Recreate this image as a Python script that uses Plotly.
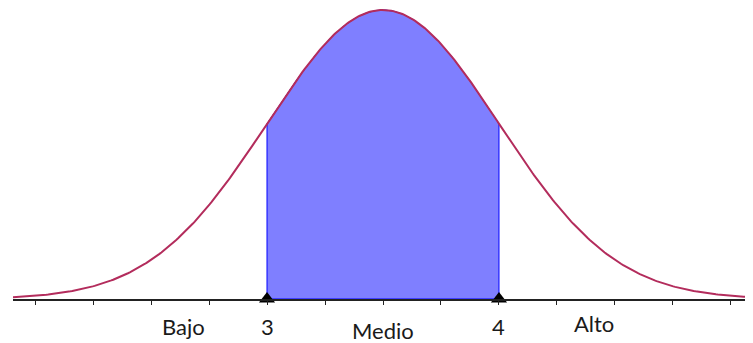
import numpy as np
import plotly.graph_objects as go

# parametri della distribuzione normale
media = 3.5
sigma = 0.5
x_min, x_max = 1.905, 5.095

# intervallo evidenziato
lim_inf, lim_sup = 3, 4

# tacche dell'asse e etichette
tacche = [2.0, 2.25, 2.5, 2.75, 3.0, 3.25, 3.5, 3.75, 4.0, 4.25, 4.5, 4.75, 5.0]
etichette = ["Bajo", "3", "Medio", "4", "Alto"]
pos_etichette = [2.638, 3.0, 3.5, 4.0, 4.41]
scarto_etichette = [-27, -27, -31, -27, -24]


def pdf(x):
    return np.exp(-0.5 * ((x - media) / sigma) ** 2) / (sigma * np.sqrt(2 * np.pi))


xs = np.linspace(x_min, x_max, 400)
xa = np.linspace(lim_inf, lim_sup, 200)
picco = pdf(media)

fig = go.Figure()

# area tra 3 e 4
fig.add_trace(go.Scatter(
    x=np.concatenate([[lim_inf], xa, [lim_sup, lim_inf]]),
    y=np.concatenate([[0], pdf(xa), [0, 0]]),
    fill='toself', fillcolor='#7f7fff',
    line=dict(color='#0000ff', width=1),
    mode='lines', hoverinfo='skip'
))

# curva
fig.add_trace(go.Scatter(
    x=xs, y=pdf(xs), mode='lines',
    line=dict(color='#b32c5c', width=2),
    hoverinfo='skip'
))

# triangoli sui limiti
fig.add_trace(go.Scatter(
    x=[lim_inf, lim_sup], y=[0, 0], mode='markers',
    marker=dict(symbol='triangle-up', size=14, color='black'),
    cliponaxis=False, hoverinfo='skip'
))

for testo, xp, dy in zip(etichette, pos_etichette, scarto_etichette):
    fig.add_annotation(
        x=xp, y=0, xref='x', yref='y', text=testo, showarrow=False,
        yanchor='middle', yshift=dy,
        font=dict(family='Lato', size=22, color='#1a1a1a')
    )

fig.update_xaxes(
    range=[x_min, x_max], showgrid=False, zeroline=False,
    showline=True, linecolor='#222222', linewidth=2,
    ticks='outside', ticklen=4, tickwidth=1, tickcolor='#222222',
    tickvals=tacche, ticktext=[''] * len(tacche)
)
# la pagina ha 8px di margine: figura 745x335
fig.update_yaxes(
    range=[0, picco * 291 / 289], visible=False, showgrid=False, zeroline=False
)

fig.update_layout(
    width=745, height=335,
    margin=dict(l=5, r=0, t=0, b=44),
    plot_bgcolor='white', paper_bgcolor='white',
    showlegend=False
)

fig.write_html("out.html")
